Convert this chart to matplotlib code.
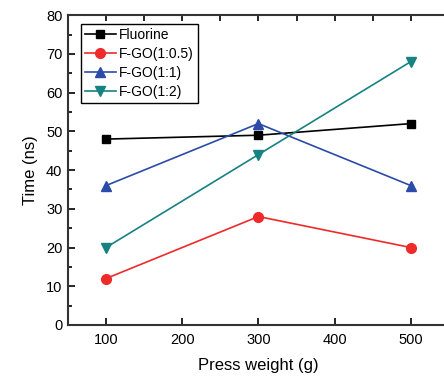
import matplotlib
matplotlib.use('Agg')
import matplotlib.pyplot as plt
from matplotlib.ticker import MultipleLocator

plt.rcParams['font.family'] = ['Liberation Sans', 'DejaVu Sans']

press = [100, 300, 500]  ### eixo X
fluorine = [48, 49, 52]
fgo_05 = [12, 28, 20]
fgo_1 = [36, 52, 36]
fgo_2 = [20, 44, 68]

fig = plt.figure(figsize=(4.44, 3.79), dpi=100)
ax = fig.add_axes([0.153, 0.1425, 0.858, 0.8175])

ax.plot(press, fluorine, marker='s', color='black', label='Fluorine', linewidth=1.2, markersize=6)
ax.plot(press, fgo_05, marker='o', color='#EE2A2A', label='F-GO(1:0.5)', linewidth=1.2, markersize=7)
ax.plot(press, fgo_1, marker='^', color='#2B4BA8', label='F-GO(1:1)', linewidth=1.2, markersize=7)
ax.plot(press, fgo_2, marker='v', color='#168282', label='F-GO(1:2)', linewidth=1.2, markersize=7)

ax.set_xlim(50, 550)
ax.set_ylim(0, 80)
ax.xaxis.set_major_locator(MultipleLocator(100))
ax.yaxis.set_major_locator(MultipleLocator(10))
ax.yaxis.set_minor_locator(MultipleLocator(5))

for s in ax.spines.values():
    s.set_linewidth(1.5)
    s.set_color('#333333')

## ticks todos para dentro
ax.tick_params(axis='x', which='major', direction='in', length=5, width=1.2, labelsize=10.5, pad=6)
ax.tick_params(axis='y', which='major', direction='in', length=5, width=1.2, labelsize=10.5, pad=4)
ax.tick_params(axis='y', which='minor', direction='in', length=3, width=1.2)

## ticks de cima (a cada 50)
top = ax.secondary_xaxis('top')
top.xaxis.set_major_locator(MultipleLocator(50))
top.tick_params(direction='in', length=4, width=1.2, labeltop=False)
top.spines['top'].set_visible(False)

ax.set_xlabel('Press weight (g)', fontsize=12, labelpad=8)
ax.set_ylabel('Time (ns)', fontsize=12, labelpad=6)

leg = ax.legend(loc='upper left', bbox_to_anchor=(0.034, 0.972), fontsize=10, fancybox=False,
                edgecolor='black', framealpha=1, handlelength=2.2, borderpad=0.3,
                labelspacing=0.35, handletextpad=0.25, borderaxespad=0.0)
leg.get_frame().set_linewidth(1.0)

fig.savefig('out.png', dpi=100)
